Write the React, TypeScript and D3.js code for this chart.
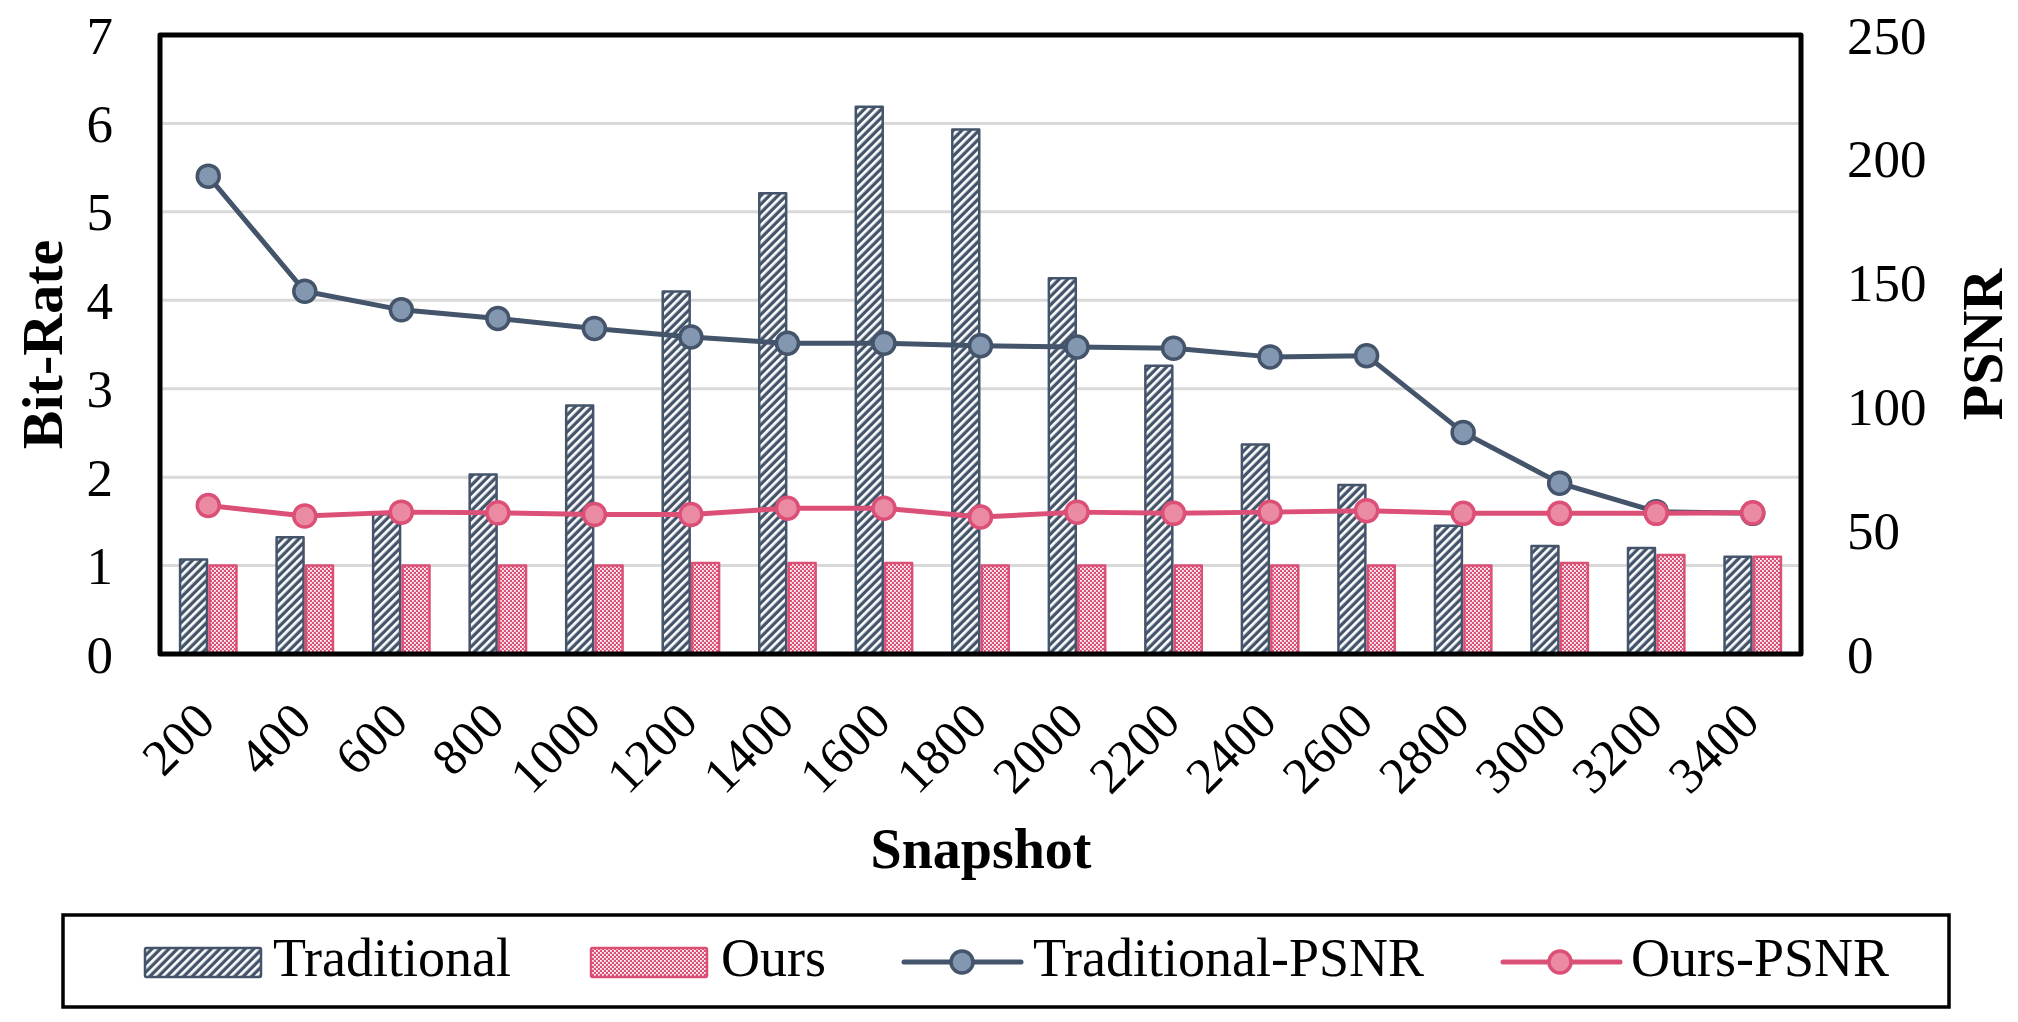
import * as d3 from 'd3'

const CATEGORIES = ['200', '400', '600', '800', '1000', '1200', '1400', '1600', '1800', '2000', '2200', '2400', '2600', '2800', '3000', '3200', '3400']
const TRADITIONAL = [1.07, 1.32, 1.58, 2.03, 2.81, 4.1, 5.21, 6.19, 5.93, 4.25, 3.26, 2.37, 1.91, 1.45, 1.22, 1.2, 1.1]
const OURS = [1.0, 1.0, 1.0, 1.0, 1.0, 1.03, 1.03, 1.03, 1.0, 1.0, 1.0, 1.0, 1.0, 1.0, 1.03, 1.12, 1.1]
const TRADITIONAL_PSNR = [193, 146.5, 139, 135.5, 131.5, 128, 125.5, 125.5, 124.5, 124, 123.5, 120, 120.5, 89.5, 69, 57.5, 56.8]
const OURS_PSNR = [60, 55.7, 57.3, 57, 56.3, 56.3, 58.9, 58.9, 55.3, 57.3, 56.8, 57.3, 57.9, 56.8, 56.8, 56.8, 57]
const LEFT_TICKS = [0, 1, 2, 3, 4, 5, 6, 7]
const RIGHT_TICKS = [0, 50, 100, 150, 200, 250]

const W = 2018
const H = 1022
const FONT = '"Liberation Serif", "Times New Roman", serif'
const DARK = '#44546a'
const DARK_FILL = '#8497b0'
const PINK = '#dc4f76'
const PINK_FILL = '#ea8ba3'

const plot = { left: 160, right: 1801, top: 35, bottom: 654 }

export default function App() {
  const x = d3.scaleBand().domain(CATEGORIES).range([plot.left, plot.right]).paddingInner(0.39).paddingOuter(0.195)
  const half = x.bandwidth() / 2
  const cx = (c: string) => (x(c) as number) + half
  const yL = d3.scaleLinear().domain([0, 7]).range([plot.bottom, plot.top])
  const yR = d3.scaleLinear().domain([0, 250]).range([plot.bottom, plot.top])

  const line = d3.line<number>().x((_, i) => cx(CATEGORIES[i])).y((d) => yR(d))

  // legend positions
  const legY = 962
  const legend = { left: 63, right: 1949, top: 915, bottom: 1007 }

  return (
    <div style={{ position: 'absolute', left: 0, top: 0 }}>
      <svg width={W} height={H} viewBox={`0 0 ${W} ${H}`} style={{ display: 'block', background: '#fff' }} fontFamily={FONT}>
        <defs>
          <pattern id="hatch" patternUnits="userSpaceOnUse" width={6} height={6} patternTransform="rotate(45)">
            <rect width={6} height={6} fill={DARK} />
            <rect width={2.7} height={6} fill="#fff" />
          </pattern>
          <pattern id="check" patternUnits="userSpaceOnUse" width={4} height={4}>
            <rect width={4} height={4} fill={PINK} />
            <rect width={1.8} height={1.8} fill="#fff" />
            <rect x={2} y={2} width={1.8} height={1.8} fill="#fff" />
          </pattern>
        </defs>

        {/* gridlines */}
        {LEFT_TICKS.slice(1, -1).map((t) => (
          <line key={t} x1={plot.left} x2={plot.right} y1={yL(t)} y2={yL(t)} stroke="#d9d9d9" strokeWidth={3} />
        ))}

        {/* bars */}
        {CATEGORIES.map((c, i) => (
          <g key={c}>
            <rect x={(x(c) as number) + 1.25} y={yL(TRADITIONAL[i])} width={half - 2.5} height={yL(0) - yL(TRADITIONAL[i])}
              fill="url(#hatch)" stroke={DARK} strokeWidth={2.5} strokeLinejoin="round" />
            <rect x={cx(c) + 1.25} y={yL(OURS[i])} width={half - 2.5} height={yL(0) - yL(OURS[i])}
              fill="url(#check)" stroke={PINK} strokeWidth={2.5} strokeLinejoin="round" />
          </g>
        ))}

        {/* lines */}
        <path d={line(TRADITIONAL_PSNR) ?? ''} fill="none" stroke={DARK} strokeWidth={5} strokeLinejoin="round" />
        {TRADITIONAL_PSNR.map((v, i) => (
          <circle key={i} cx={cx(CATEGORIES[i])} cy={yR(v)} r={11} fill={DARK_FILL} stroke={DARK} strokeWidth={3.5} />
        ))}
        <path d={line(OURS_PSNR) ?? ''} fill="none" stroke={PINK} strokeWidth={5} strokeLinejoin="round" />
        {OURS_PSNR.map((v, i) => (
          <circle key={i} cx={cx(CATEGORIES[i])} cy={yR(v)} r={11} fill={PINK_FILL} stroke={PINK} strokeWidth={3.5} />
        ))}

        {/* plot border */}
        <rect x={plot.left} y={plot.top} width={plot.right - plot.left} height={plot.bottom - plot.top}
          fill="none" stroke="#000" strokeWidth={5} strokeLinejoin="round" />

        {/* left axis */}
        {LEFT_TICKS.map((t) => (
          <text key={t} x={113} y={yL(t)} dy="0.35em" textAnchor="end" fontSize={53} fill="#000">{t}</text>
        ))}
        {/* right axis */}
        {RIGHT_TICKS.map((t) => (
          <text key={t} x={1847} y={yR(t)} dy="0.35em" textAnchor="start" fontSize={53} fill="#000">{t}</text>
        ))}

        {/* x labels */}
        {CATEGORIES.map((c) => (
          <text key={c} transform={`translate(${cx(c) + 9},${724}) rotate(-45)`} textAnchor="end" fontSize={51} fill="#000">{c}</text>
        ))}

        {/* titles */}
        <text transform={`translate(62,${(plot.top + plot.bottom) / 2}) rotate(-90)`} textAnchor="middle" fontSize={58} fontWeight="bold">Bit-Rate</text>
        <text transform={`translate(2002,${(plot.top + plot.bottom) / 2}) rotate(-90)`} textAnchor="middle" fontSize={58} fontWeight="bold">PSNR</text>
        <text x={981} y={868} textAnchor="middle" fontSize={56} fontWeight="bold">Snapshot</text>

        {/* legend */}
        <rect x={legend.left} y={legend.top} width={legend.right - legend.left} height={legend.bottom - legend.top}
          fill="none" stroke="#000" strokeWidth={3.5} />
        <rect x={145} y={948} width={116} height={29} fill="url(#hatch)" stroke={DARK} strokeWidth={2.5} rx={1.5} />
        <text x={273} y={976} fontSize={54}>Traditional</text>
        <rect x={591} y={948} width={116} height={29} fill="url(#check)" stroke={PINK} strokeWidth={2.5} rx={1.5} />
        <text x={721} y={976} fontSize={54}>Ours</text>
        <line x1={904} x2={1021} y1={legY} y2={legY} stroke={DARK} strokeWidth={5} strokeLinecap="round" />
        <circle cx={962} cy={legY} r={11} fill={DARK_FILL} stroke={DARK} strokeWidth={3.5} />
        <text x={1033} y={976} fontSize={54}>Traditional-PSNR</text>
        <line x1={1503} x2={1620} y1={legY} y2={legY} stroke={PINK} strokeWidth={5} strokeLinecap="round" />
        <circle cx={1560} cy={legY} r={11} fill={PINK_FILL} stroke={PINK} strokeWidth={3.5} />
        <text x={1631} y={976} fontSize={54}>Ours-PSNR</text>
      </svg>
    </div>
  )
}
